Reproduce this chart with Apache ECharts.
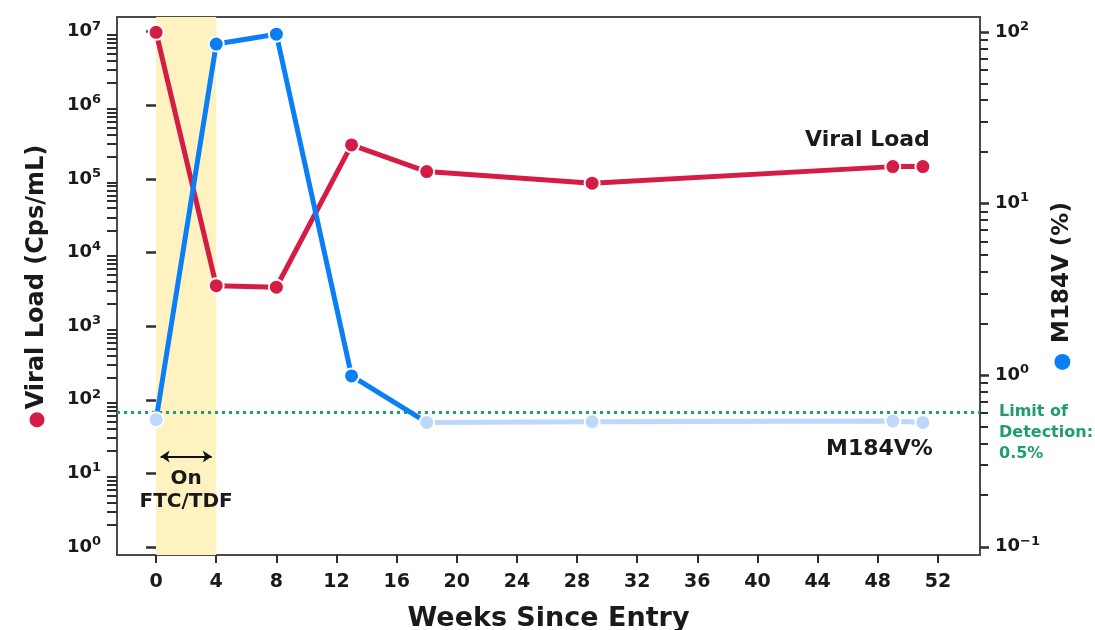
<!DOCTYPE html>
<html><head><meta charset="utf-8">
<script src="https://cdn.jsdelivr.net/npm/echarts@6/dist/echarts.min.js"></script>
<style>html,body{margin:0;padding:0;background:#fff}#c{width:1095px;height:630px}</style>
</head><body><div id="c"></div>
<script>
// ---- data ----
const weeks = [0, 4, 8, 13, 18, 29, 49, 51];
const viralLoad = [9.8e6, 3550, 3380, 2.9e5, 1.26e5, 8.75e4, 1.47e5, 1.47e5];
const m184vPct = [0.55, 85, 97, 0.99, 0.53, 0.535, 0.54, 0.53];
const weekTicks = [0, 4, 8, 12, 16, 20, 24, 28, 32, 36, 40, 44, 48, 52];
const vlTicks = [1, 10, 100, 1e3, 1e4, 1e5, 1e6, 1e7];
const pctTicks = [0.1, 1, 10, 100];
const detectionLimit = 0.61;      // where the "0.5%" line is drawn
const therapyWeeks = [0, 4];      // On FTC/TDF
const therapyArrowLevel = 17;     // viral-load level of the double arrow

// ---- styling ----
const F = 'DejaVu Sans';
const TXT = '#1a1a1a';
const RED = '#d41c45';
const BLUE = '#0a7ef4';
const LIGHT = '#bcd8fb';
const GREEN = '#1f9c70';
const AX = '#2e2e2e';

function minors(majors) {
  const out = [];
  for (let i = 0; i < majors.length - 1; i++)
    for (let k = 2; k <= 9; k++) out.push(+(k * majors[i]).toPrecision(6));
  return out;
}
function pow10Label(v) {
  const e = Math.round(Math.log10(v));
  return '{b|10}{s|' + (e < 0 ? '\u2212' + (-e) : e) + '}';
}
const powRich = {
  b: { fontSize: 18, fontWeight: 'bold', fontFamily: F, color: TXT, lineHeight: 24, verticalAlign: 'middle' },
  s: { fontSize: 13, fontWeight: 'bold', fontFamily: F, color: TXT, lineHeight: 12, verticalAlign: 'top' }
};

const vlMin = Math.pow(10, -0.109), vlMax = Math.pow(10, 7.2);
const pMin = Math.pow(10, -1.048), pMax = Math.pow(10, 2.087);

function logAxis(pos, min, max, majors, withLabels, margin, tickLen, tickW) {
  return {
    type: 'log', position: pos, min: min, max: max, logBase: 10,
    axisLine: { show: false }, splitLine: { show: false },
    axisTick: { show: true, customValues: majors, length: tickLen, lineStyle: { color: AX, width: tickW } },
    axisLabel: withLabels ? { show: true, customValues: majors, formatter: pow10Label, margin: margin, rich: powRich } : { show: false }
  };
}

const yLeft = logAxis('left', vlMin, vlMax, vlTicks, true, 16, 10, 2.5);
yLeft.name = '{dot|}{t|Viral Load (Cps/mL)}';
yLeft.nameLocation = 'middle';
yLeft.nameRotate = 90;
yLeft.nameGap = 66;
yLeft.nameTextStyle = { rich: {
  dot: { width: 15, height: 15, borderRadius: 8, backgroundColor: RED },
  t: { fontSize: 24, fontWeight: 'bold', fontFamily: F, color: TXT, lineHeight: 28, padding: [0, 0, 0, 3] }
} };
const yRight = logAxis('right', pMin, pMax, pctTicks, true, 15, 9, 2.5);
yRight.name = '{dot|}{t|M184V (%)}';
yRight.nameLocation = 'middle';
yRight.nameRotate = 90;
yRight.nameGap = 57;
yRight.nameTextStyle = { rich: {
  dot: { width: 16, height: 16, borderRadius: 8, backgroundColor: BLUE },
  t: { fontSize: 23, fontWeight: 'bold', fontFamily: F, color: TXT, lineHeight: 28, padding: [0, 0, 0, 11] }
} };
const yLeftMinor = logAxis('left', vlMin, vlMax, minors(vlTicks), false, 0, 10, 2);
const yRightMinor = logAxis('right', pMin, pMax, minors(pctTicks), false, 0, 8, 2);

// split blue into detected / below-detection runs
const below = m184vPct.map(v => v < detectionLimit);
let split = m184vPct.length - 1;
while (split > 0 && below[split - 1]) split--;
function bluePoint(i) {
  return { value: [weeks[i], m184vPct[i]], itemStyle: { color: below[i] ? LIGHT : BLUE } };
}
const blueDark = [], blueLight = [];
for (let i = 0; i <= split; i++) blueDark.push(bluePoint(i));
for (let i = split; i < weeks.length; i++) blueLight.push(bluePoint(i));
blueLight[blueLight.length - 1].label = {
  show: true, position: 'bottom', align: 'right', offset: [10, 0], formatter: 'M184V%',
  fontSize: 22, fontWeight: 'bold', fontFamily: F, color: TXT, lineHeight: 26
};

const redData = weeks.map((w, i) => ({ value: [w, viralLoad[i]] }));
redData[redData.length - 1].label = {
  show: true, position: 'top', align: 'right', offset: [7, 0], formatter: 'Viral Load',
  fontSize: 22, fontWeight: 'bold', fontFamily: F, color: TXT, lineHeight: 26
};

const option = {
  animation: false,
  grid: { left: 117, right: 115, top: 17, bottom: 75, show: true, borderColor: '#4a4a4a', borderWidth: 2,
          containLabel: false, outerBoundsMode: 'none' },
  xAxis: {
    type: 'value', min: -2.6, max: 54.8,
    axisLine: { show: false }, splitLine: { show: false },
    axisTick: { show: true, customValues: weekTicks, length: 8, lineStyle: { color: AX, width: 2 } },
    axisLabel: { customValues: weekTicks, margin: 18, fontSize: 19, fontWeight: 'bold', fontFamily: F, color: TXT },
    name: 'Weeks Since Entry', nameLocation: 'middle', nameGap: 50,
    nameTextStyle: { fontSize: 27, fontWeight: 'bold', fontFamily: F, color: TXT }
  },
  yAxis: [yLeft, yRight, yLeftMinor, yRightMinor],
  series: [
    {
      type: 'line', yAxisIndex: 1, z: -1, data: [], silent: true,
      markArea: { silent: true, itemStyle: { color: '#fdf2c0' },
        data: [[{ xAxis: therapyWeeks[0] }, { xAxis: therapyWeeks[1] }]] },
      markLine: { silent: true, symbol: ['none', 'none'],
        lineStyle: { color: GREEN, width: 3, type: [3, 4] },
        label: { show: true, position: 'end', distance: 19, formatter: '\n\nLimit of\nDetection:\n0.5%',
          color: GREEN, fontSize: 16, fontWeight: 'bold', fontFamily: F, lineHeight: 21,
          align: 'left' },
        data: [{ yAxis: detectionLimit }] }
    },
    {
      type: 'line', yAxisIndex: 0, z: 3, data: redData,
      symbol: 'circle', symbolSize: 15,
      lineStyle: { color: RED, width: 5 },
      itemStyle: { color: RED, borderColor: '#fff', borderWidth: 2 },
      markLine: { silent: true, symbol: ['arrow', 'arrow'], symbolSize: [9, 9],
        lineStyle: { color: '#111', width: 2, type: 'solid' },
        label: { show: true, position: 'insideMiddleBottom', formatter: 'On\nFTC/TDF', distance: 11,
          color: TXT, fontSize: 20, fontWeight: 'bold', fontFamily: F, lineHeight: 23 },
        data: [[{ coord: [therapyWeeks[0] + 0.3, therapyArrowLevel] }, { coord: [therapyWeeks[1] - 0.3, therapyArrowLevel] }]] }
    },
    {
      type: 'line', yAxisIndex: 1, z: 4, data: blueLight,
      symbol: 'circle', symbolSize: 15,
      lineStyle: { color: LIGHT, width: 5 },
      itemStyle: { color: LIGHT, borderColor: '#fff', borderWidth: 2 }
    },
    {
      type: 'line', yAxisIndex: 1, z: 5, data: blueDark,
      symbol: 'circle', symbolSize: 15,
      lineStyle: { color: BLUE, width: 5 },
      itemStyle: { color: BLUE, borderColor: '#fff', borderWidth: 2 }
    }
  ]
};
const chart = echarts.init(document.getElementById('c'), null, { renderer: 'canvas' });
chart.setOption(option);
</script>
</body></html>
